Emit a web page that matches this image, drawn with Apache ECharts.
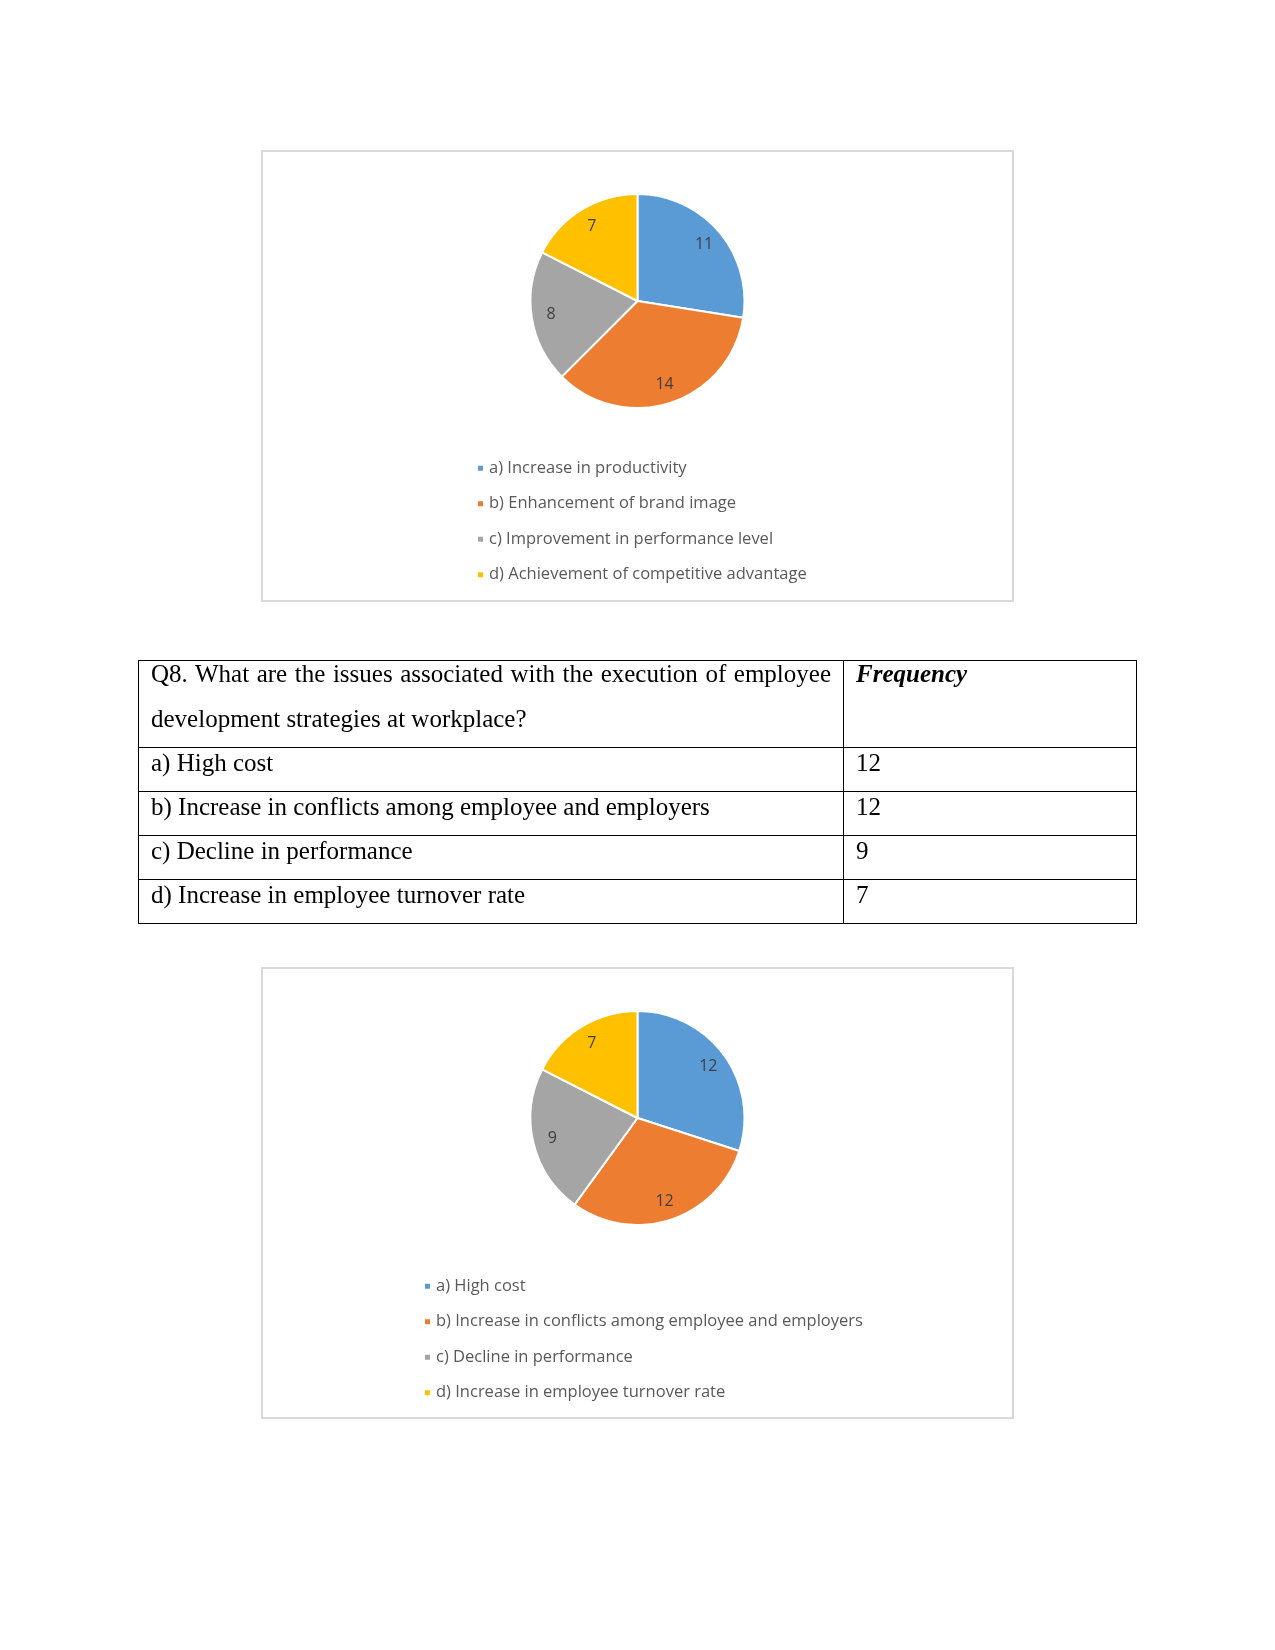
<!DOCTYPE html>
<html>
<head>
<meta charset="utf-8">
<script src="https://cdn.jsdelivr.net/npm/echarts@6/dist/echarts.min.js"></script>
<style>
  html, body { margin: 0; padding: 0; background: #fff; }
  #page { position: relative; width: 1275px; height: 1650px; }
  #chart { position: absolute; left: 0; top: 0; width: 1275px; height: 1650px; }
  #tbl { position: absolute; left: 138px; top: 660px; z-index: 2; border-collapse: collapse; table-layout: fixed;
         font-family: "Liberation Serif", "Times New Roman", serif; font-size: 25px; color: #000; }
  #tbl td { border: 1px solid #000; vertical-align: top; padding: 0 12px; line-height: 28px; overflow: hidden; }
  #tbl tr.h td { height: 86px; }
  #tbl tr.h td > div { position: relative; top: -9px; height: 80px; line-height: 44.5px; }
  #tbl tr.r td { height: 43px; }
  #tbl tr.r td > div { position: relative; top: 1px; height: 30px; }
</style>
</head>
<body>
<div id="page">
  <div id="chart"></div>
  <table id="tbl">
    <colgroup><col style="width:705px"><col style="width:293px"></colgroup>
    <tbody id="tbody"></tbody>
  </table>
</div>
<script>
// ---- data ----
const pie1Names = [
  'a) Increase in productivity',
  'b) Enhancement of brand image',
  'c) Improvement in performance level',
  'd) Achievement of competitive advantage'
];
const pie1Values = [11, 14, 8, 7];

const tableQuestion = 'Q8. What are the issues associated with the execution of employee development strategies at workplace?';
const tableHeader2 = 'Frequency';
const pie2Names = [
  'a) High cost',
  'b) Increase in conflicts among employee and employers',
  'c) Decline in performance',
  'd) Increase in employee turnover rate'
];
const pie2Values = [12, 12, 9, 7];

// ---- styling ----
const colors = ['#5B9BD5', '#ED7D31', '#A5A5A5', '#FFC000'];
const FONT = 'Open Sans';

// ---- table ----
const tbody = document.getElementById('tbody');
let html = '<tr class="h"><td><div style="text-align:justify">' + tableQuestion +
  '</div></td><td><div><b><i>' + tableHeader2 + '</i></b></div></td></tr>';
pie2Names.forEach((n, i) => {
  html += '<tr class="r"><td><div>' + n + '</div></td><td><div>' + pie2Values[i] + '</div></td></tr>';
});
tbody.innerHTML = html;

// ---- chart ----
function mkData(names, values) {
  return names.map((n, i) => ({ name: n, value: values[i] }));
}
function pieSeries(center, names, values) {
  return [
    {
      type: 'pie', center: center, radius: [0, 107], startAngle: 90, clockwise: true,
      color: colors, label: { show: false }, labelLine: { show: false },
      itemStyle: { borderColor: '#fff', borderWidth: 2 },
      emphasis: { disabled: true },
      data: mkData(names, values)
    },
    {
      type: 'pie', center: center, radius: [62, 107], startAngle: 90, clockwise: true,
      silent: true, emphasis: { disabled: true },
      itemStyle: { color: 'rgba(0,0,0,0)' },
      label: { show: true, position: 'inside', formatter: '{c}', color: '#404040',
               fontSize: 16, fontFamily: FONT, padding: [5, 0, 0, 0] },
      labelLine: { show: false },
      data: mkData(names, values)
    }
  ];
}
function legend(left, top, names) {
  return {
    orient: 'vertical', left: left, top: top, padding: 0, icon: 'rect', itemWidth: 7, itemHeight: 7,
    itemGap: 15, selectedMode: false,
    textStyle: { color: '#595959', fontSize: 16.5, fontFamily: FONT, lineHeight: 20.5 },
    data: names.map((n, i) => ({ name: n, itemStyle: { color: colors[i] } }))
  };
}

const chart = echarts.init(document.getElementById('chart'), null, { renderer: 'canvas' });
chart.setOption({
  animation: false,
  backgroundColor: '#fff',
  graphic: [
    { type: 'rect', shape: { x: 262, y: 151, width: 751, height: 450 },
      style: { fill: 'none', stroke: '#D9D9D9', lineWidth: 2 } },
    { type: 'rect', shape: { x: 262, y: 968, width: 751, height: 450 },
      style: { fill: 'none', stroke: '#D9D9D9', lineWidth: 2 } }
  ],
  legend: [legend(476, 458, pie1Names), legend(423, 1276, pie2Names)],
  series: [].concat(pieSeries([637.5, 301], pie1Names, pie1Values),
                    pieSeries([637.5, 1118], pie2Names, pie2Values))
});
</script>
</body>
</html>
